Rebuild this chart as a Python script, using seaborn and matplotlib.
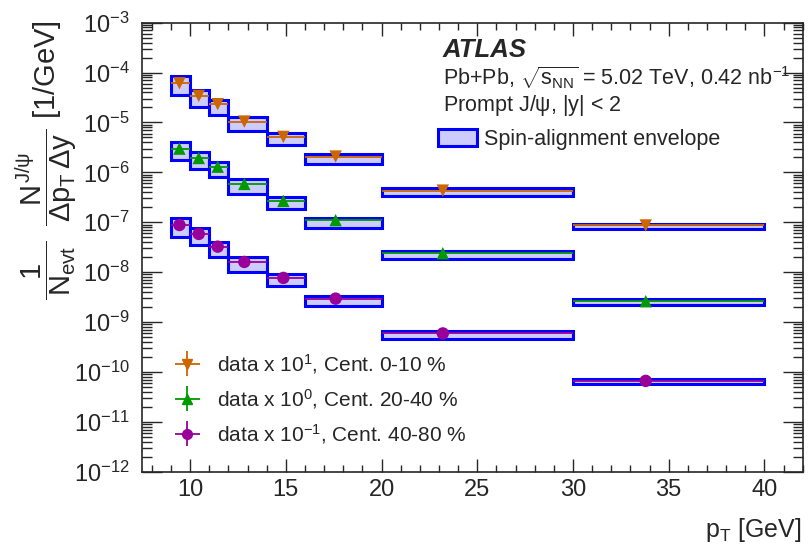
import numpy as np
import pandas as pd
import seaborn as sns
import matplotlib.pyplot as plt
from matplotlib.patches import Patch
from matplotlib.container import ErrorbarContainer
from matplotlib.legend_handler import HandlerErrorbar
from matplotlib.ticker import LogLocator, MultipleLocator, NullFormatter

# pT bins and mean pT of each bin
bin_lo = [9, 10, 11, 12, 14, 16, 20, 30]
bin_hi = [10, 11, 12, 14, 16, 20, 30, 40]
pt_mean = [9.44, 10.45, 11.44, 12.83, 14.87, 17.6, 23.2, 33.8]

# yields (already scaled by 10^1, 10^0, 10^-1)
y_0_10 = [6.1e-5, 3.4e-5, 2.32e-5, 1.04e-5, 5.13e-6, 2.07e-6, 4.3e-7, 8.6e-8]
y_20_40 = [2.99e-6, 1.94e-6, 1.30e-6, 5.86e-7, 2.67e-7, 1.10e-7, 2.39e-8, 2.61e-9]
y_40_80 = [8.8e-8, 5.83e-8, 3.24e-8, 1.60e-8, 7.65e-9, 2.94e-9, 5.9e-10, 6.6e-11]

# relative stat. errors and spin-alignment envelope (relative up / down)
stat_rel = [0.03, 0.03, 0.03, 0.03, 0.04, 0.04, 0.06, 0.12]
env_up = [0.37, 0.29, 0.23, 0.23, 0.20, 0.12, 0.12, 0.09]
env_down = [0.42, 0.41, 0.39, 0.36, 0.31, 0.29, 0.22, 0.15]

labels = [r"data x 10$^{1}$, Cent. 0-10 %",
          r"data x 10$^{0}$, Cent. 20-40 %",
          r"data x 10$^{-1}$, Cent. 40-80 %"]
colors = ["#cc6600", "#009900", "#990099"]
markers = ["v", "^", "o"]

sns.set_theme(style="ticks")
plt.rcParams["font.family"] = ["Liberation Sans", "DejaVu Sans"]
plt.rcParams["mathtext.fontset"] = "custom"
plt.rcParams["mathtext.rm"] = "Liberation Sans"
plt.rcParams["mathtext.it"] = "Liberation Sans"
plt.rcParams["mathtext.bf"] = "Liberation Sans:bold"

rows = []
for lab, ys in zip(labels, [y_0_10, y_20_40, y_40_80]):
    for i in range(len(pt_mean)):
        rows.append({"pt": pt_mean[i], "lo": bin_lo[i], "hi": bin_hi[i],
                     "y": ys[i], "stat": stat_rel[i], "up": env_up[i],
                     "down": env_down[i], "sample": lab})
df = pd.DataFrame(rows)

fig = plt.figure(figsize=(8.08, 5.50), dpi=100)
ax = fig.add_axes([0.1761, 0.1424, 0.8173, 0.8164])
ax.set_yscale("log")

handles = []
for lab, col, mk in zip(labels, colors, markers):
    d = df[df["sample"] == lab]
    low = d["y"] * (1 - d["down"])
    high = d["y"] * (1 + d["up"])
    ax.bar(d["lo"], high - low, bottom=low, width=d["hi"] - d["lo"], align="edge",
           color="#ccccff", edgecolor="#0000ff", linewidth=2.2, zorder=1)
    eb = ax.errorbar(d["pt"], d["y"],
                     xerr=[d["pt"] - d["lo"], d["hi"] - d["pt"]],
                     yerr=d["y"] * d["stat"], fmt="none", ecolor=col,
                     elinewidth=1.3, capsize=0, zorder=2)
    handles.append((eb, plt.Line2D([], [], color=col, marker=mk, ls="none", ms=7)))

sns.scatterplot(data=df, x="pt", y="y", hue="sample", style="sample",
                palette=colors, markers=markers, s=80, edgecolor="none",
                legend=False, ax=ax, zorder=3)

ax.set_xlim(7.5, 42)
ax.set_ylim(1e-12, 1e-3)
ax.xaxis.set_major_locator(MultipleLocator(5))
ax.xaxis.set_minor_locator(MultipleLocator(1))
ax.yaxis.set_major_locator(LogLocator(base=10, numticks=20))
ax.yaxis.set_minor_locator(LogLocator(base=10, subs=np.arange(2, 10), numticks=20))
ax.yaxis.set_minor_formatter(NullFormatter())
ax.tick_params(which="both", direction="in", top=True, right=True, labelsize=17, width=1)
ax.tick_params(axis="x", which="major", length=9.5, pad=5)
ax.tick_params(axis="x", which="minor", length=5)
ax.tick_params(axis="y", which="major", length=14.5, pad=9)
ax.tick_params(axis="y", which="minor", length=7)
for s in ax.spines.values():
    s.set_linewidth(1.2)
ax.set_xlabel("")
ax.set_ylabel("")

fig.text(802 / 808, 1 - 537 / 550, r"p$_{\rm T}$ [GeV]", ha="right", va="baseline", fontsize=18)
fig.text(46 / 808, 1 - 20 / 550,
         r"$\dfrac{1}{\,N_{\rm evt}\,}\;\;\dfrac{N^{J/\psi}}{\,\Delta p_{\rm T}\,\Delta y\,}$ [1/GeV]",
         rotation=90, ha="center", va="top", fontsize=21)

fig.text(443 / 808, 1 - 57 / 550, "ATLAS", fontsize=18.5, fontweight="bold",
         fontstyle="italic", va="baseline")
fig.text(443 / 808, 1 - 85 / 550,
         r"Pb+Pb, $\sqrt{s_{\rm NN}}$ = 5.02 TeV, 0.42 nb$^{-1}$", fontsize=15.5, va="baseline")
fig.text(443 / 808, 1 - 111 / 550, r"Prompt J/$\psi$, |y| < 2", fontsize=15.5, va="baseline")

leg1 = ax.legend([Patch(facecolor="#ccccff", edgecolor="#0000ff", linewidth=2.2)],
                 ["Spin-alignment envelope"], loc="upper left",
                 bbox_to_anchor=(438 / 808, 1 - 129 / 550), bbox_transform=fig.transFigure,
                 frameon=False, fontsize=15.5, borderpad=0, borderaxespad=0,
                 handlelength=1.8, handleheight=0.8, handletextpad=0.35)
ax.add_artist(leg1)
ax.legend(handles, labels, loc="upper left",
          bbox_to_anchor=(177 / 808, 1 - 352 / 550), bbox_transform=fig.transFigure,
          frameon=False, fontsize=15, borderpad=0, borderaxespad=0, labelspacing=0.53,
          handlelength=1.0, handletextpad=0.9,
          handler_map={ErrorbarContainer: HandlerErrorbar(xerr_size=0.6, yerr_size=0.6)})

fig.savefig("out.png", dpi=100)
